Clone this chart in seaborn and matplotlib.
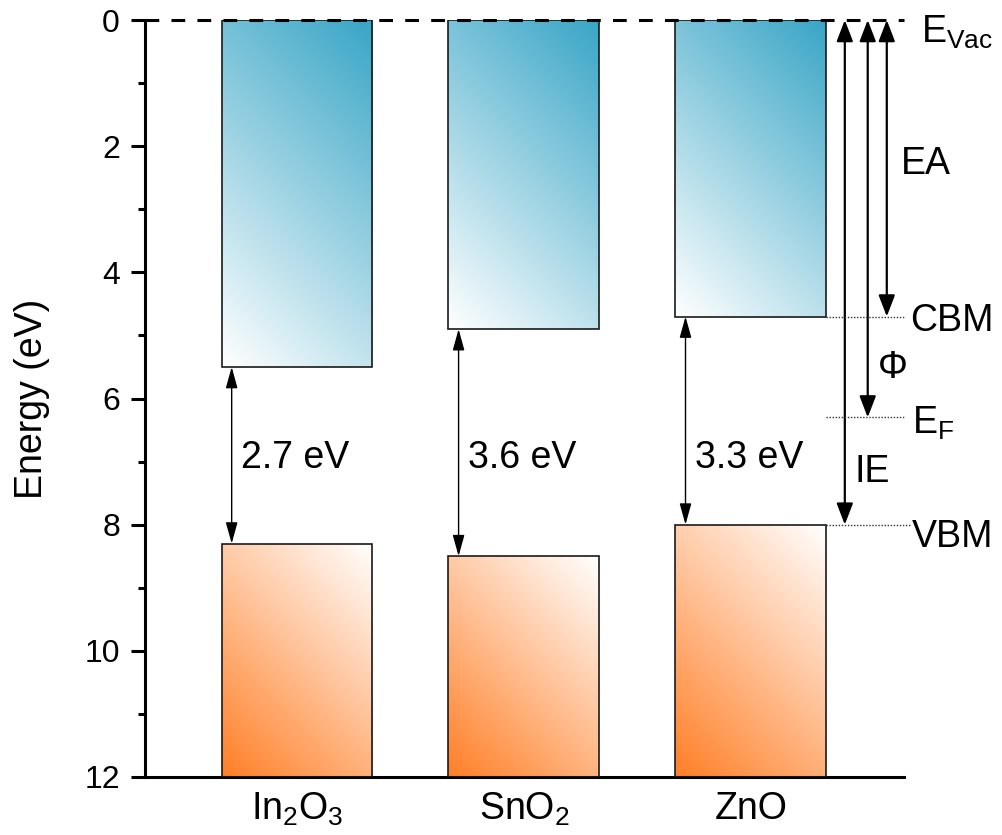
import numpy as np
import pandas as pd
import matplotlib
matplotlib.use("Agg")
import matplotlib.pyplot as plt
import seaborn as sns
from matplotlib.colors import to_rgb

# ---------------- data ----------------
materials = ["In2O3", "SnO2", "ZnO"]
tick_labels = [r"In$_2$O$_3$", r"SnO$_2$", "ZnO"]
cbm = [5.5, 4.9, 4.7]          # conduction band minimum (eV below vacuum)
vbm = [8.3, 8.5, 8.0]          # valence band maximum (eV below vacuum)
gap_labels = ["2.7 eV", "3.6 eV", "3.3 eV"]
e_vac = 0.0
zno_ef = 6.3                   # Fermi level of ZnO
y_max = 12.0
y_ticks = [0, 2, 4, 6, 8, 10, 12]

# ---------------- style ----------------
sns.set_style("ticks")
plt.rcParams["font.family"] = ["Liberation Sans", "DejaVu Sans"]
plt.rcParams["mathtext.fontset"] = "custom"
plt.rcParams["mathtext.rm"] = "Liberation Sans"
plt.rcParams["mathtext.it"] = "Liberation Sans:italic"
plt.rcParams["mathtext.bf"] = "Liberation Sans:bold"
for k in ["text.color", "axes.labelcolor", "xtick.color", "ytick.color",
          "axes.edgecolor"]:
    plt.rcParams[k] = "black"

cb_dark = to_rgb("#38a5c6")
vb_dark = to_rgb("#ff7f27")
edge_col = "#1a1a1a"

fig = plt.figure(figsize=(10.02, 8.35), dpi=100)
ax = fig.add_axes([0.1447, 0.0695, 0.902 - 0.1447, 0.976 - 0.0695])

df_cb = pd.DataFrame({"material": materials, "depth": cbm})
df_vb = pd.DataFrame({"material": materials,
                      "height": [y_max - v for v in vbm]})

bar_w = 0.665
sns.barplot(data=df_cb, x="material", y="depth", ax=ax, width=bar_w,
            color="white", edgecolor=edge_col, linewidth=1.2,
            errorbar=None, zorder=3)
sns.barplot(data=df_vb, x="material", y="height", ax=ax, width=bar_w,
            color="white", edgecolor=edge_col, linewidth=1.2,
            errorbar=None, zorder=3, bottom=vbm)

xlim = (-0.67, 2.674)
ax.set_xlim(*xlim)
ax.set_ylim(y_max, 0)

# pixel scale for gradient direction
fig.canvas.draw()
px_per_x = ax.transData.transform((1, 0))[0] - ax.transData.transform((0, 0))[0]
px_per_y = abs(ax.transData.transform((0, 1))[1] - ax.transData.transform((0, 0))[1])

patches = list(ax.patches)
for i, p in enumerate(patches):
    x0, w = p.get_x(), p.get_width()
    y0, h = p.get_y(), p.get_height()
    ylo, yhi = min(y0, y0 + h), max(y0, y0 + h)
    wpx, hpx = w * px_per_x, abs(h) * px_per_y
    M, N = 120, 240
    u = np.linspace(0, 1, M)[None, :]
    r = np.linspace(0, 1, N)[:, None]   # 0 = visual top
    if i < 3:
        d = (u * wpx + (1 - r) * hpx) / (wpx + hpx)
        dark = np.array(cb_dark)
    else:
        d = ((1 - u) * wpx + r * hpx) / (wpx + hpx)
        dark = np.array(vb_dark)
    img = (1 - d[..., None]) * np.ones(3) + d[..., None] * dark
    im = ax.imshow(img, extent=(x0, x0 + w, yhi, ylo), origin="upper",
                   aspect="auto", zorder=2, interpolation="bilinear")
    im.set_clip_path(p)
    p.set_facecolor("none")

ax.set_xlim(*xlim)
ax.set_ylim(y_max, 0)

# vacuum level dashed line
ax.axhline(e_vac, color="black", lw=2.2, ls=(0, (4.5, 4)), zorder=5,
           clip_on=False)

# band gap arrows and labels
for i, (c, v, lab) in enumerate(zip(cbm, vbm, gap_labels)):
    ax.annotate("", xy=(i - 0.288, c), xytext=(i - 0.288, v),
                arrowprops=dict(arrowstyle="<|-|>,head_length=0.65,head_width=0.18",
                                mutation_scale=20, lw=1.0, color="black",
                                shrinkA=0, shrinkB=0), zorder=6)
    ax.text(i - 0.245, 7.1, lab, fontsize=27, ha="left", va="baseline")

# right-hand energy arrows for ZnO
z = 2
arrow_kw = dict(arrowstyle="<|-|>,head_length=0.65,head_width=0.25",
                mutation_scale=20, lw=1.6, color="black", shrinkA=0, shrinkB=0)
ax.annotate("", xy=(2.414, e_vac), xytext=(2.414, vbm[z]),
            arrowprops=arrow_kw, annotation_clip=False)
ax.annotate("", xy=(2.515, e_vac), xytext=(2.515, zno_ef),
            arrowprops=arrow_kw, annotation_clip=False)
ax.annotate("", xy=(2.599, e_vac), xytext=(2.599, cbm[z]),
            arrowprops=arrow_kw, annotation_clip=False)

# dotted level lines
right_edge = z + bar_w / 2
dot_kw = dict(color="#333333", lw=1.0, ls=(0, (1, 1.2)), clip_on=False, zorder=4)
ax.plot([right_edge, 2.68], [cbm[z], cbm[z]], **dot_kw)
ax.plot([right_edge, 2.68], [zno_ef, zno_ef], **dot_kw)
ax.plot([right_edge, 2.70], [vbm[z], vbm[z]], **dot_kw)

# labels on the right
fs = 27
ax.text(2.75, 0.36, r"E$_{\mathrm{Vac}}$", fontsize=fs, va="baseline", ha="left")
ax.text(2.66, 2.44, "EA", fontsize=fs, va="baseline", ha="left")
ax.text(2.70, cbm[z] + 0.23, "CBM", fontsize=fs, va="baseline", ha="left")
ax.text(2.56, 5.67, "Φ", fontsize=fs, va="baseline", ha="left")
ax.text(2.71, 6.56, r"E$_{\mathrm{F}}$", fontsize=fs, va="baseline", ha="left")
ax.text(2.455, 7.32, "IE", fontsize=fs, va="baseline", ha="left")
ax.text(2.71, vbm[z] + 0.35, "VBM", fontsize=fs, va="baseline", ha="left")

# axes styling
ax.set_yticks(y_ticks)
ax.set_yticks(np.arange(1, 12, 2), minor=True)
ax.set_xticks(range(len(materials)))
ax.set_xticklabels(tick_labels, fontsize=27)
ax.tick_params(axis="y", which="major", length=10, width=2.2, labelsize=23, pad=8)
ax.tick_params(axis="y", which="minor", length=5, width=2.2)
ax.tick_params(axis="x", length=0, pad=10)
ax.set_xlabel("")
ax.set_ylabel("Energy (eV)", fontsize=27, labelpad=25)
sns.despine(ax=ax)
for s in ["left", "bottom"]:
    ax.spines[s].set_linewidth(2.2)
    ax.spines[s].set_color("black")
ax.spines["left"].set_zorder(6)

fig.savefig("out.png", dpi=100)
